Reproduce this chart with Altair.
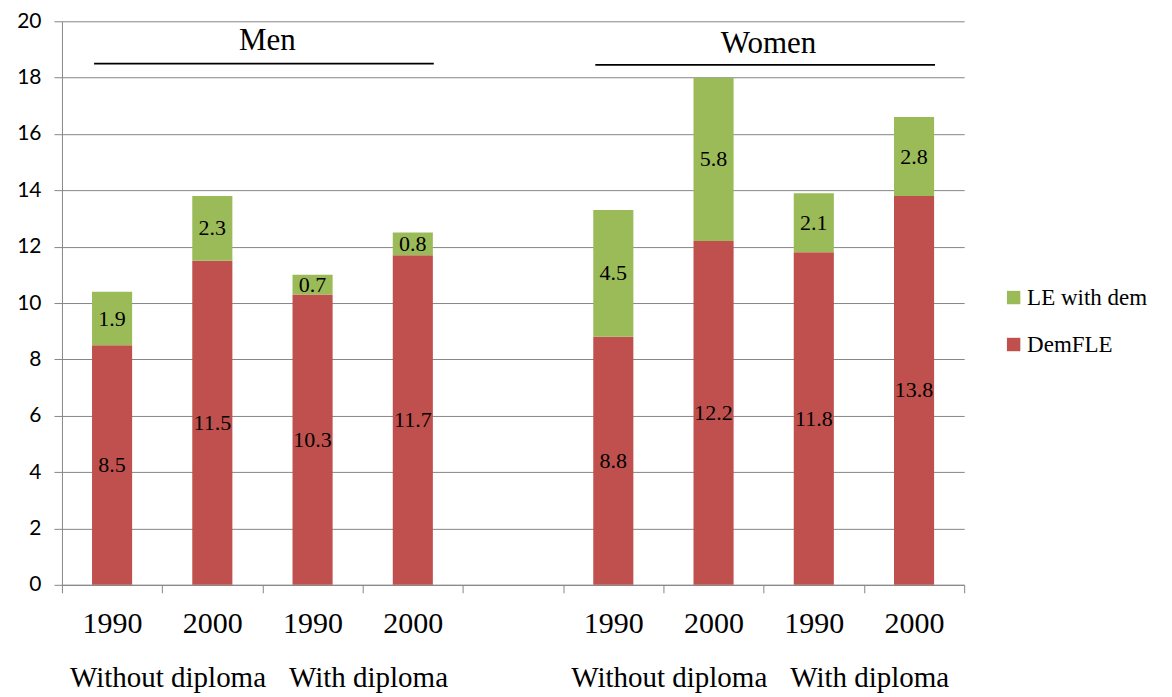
import altair as alt
import pandas as pd

# ---- data -------------------------------------------------------------
slots = ["M_wo_1990", "M_wo_2000", "M_w_1990", "M_w_2000", "gap",
         "F_wo_1990", "F_wo_2000", "F_w_1990", "F_w_2000"]
bar_keys = ["M_wo_1990", "M_wo_2000", "M_w_1990", "M_w_2000",
            "F_wo_1990", "F_wo_2000", "F_w_1990", "F_w_2000"]
demfle = [8.5, 11.5, 10.3, 11.7, 8.8, 12.2, 11.8, 13.8]
le_dem = [1.9, 2.3, 0.7, 0.8, 4.5, 5.8, 2.1, 2.8]
series = ["LE with dem", "DemFLE"]
colors = ["#9BBB59", "#C0504D"]

group_anchor = ["M_wo_1990", "M_w_1990", "F_wo_1990", "F_w_1990"]
group_labels = ["Without diploma", "With diploma", "Without diploma", "With diploma"]

sex_labels = ["Men", "Women"]
sex_anchor = ["M_wo_2000", "F_wo_2000"]
sex_start = ["M_wo_1990", "F_wo_1990"]
sex_end = ["M_w_2000", "F_w_2000"]
sex_label_y = [19.3, 19.2]
sex_rule_y = [18.5, 18.45]

y_ticks = list(range(0, 21, 2))

# ---- tables -----------------------------------------------------------
rows = []
for k, d, l in zip(bar_keys, demfle, le_dem):
    rows.append({"slot": k, "series": "DemFLE", "value": d, "ord": 0})
    rows.append({"slot": k, "series": "LE with dem", "value": l, "ord": 1})
df = pd.DataFrame(rows)
groups = pd.DataFrame({"slot": group_anchor, "label": group_labels})
sexes = pd.DataFrame({"label": sex_labels, "slot": sex_anchor, "s0": sex_start,
                      "s1": sex_end, "ly": sex_label_y, "ry": sex_rule_y})

W, H = 903, 564
serif = "Liberation Serif"

xscale = alt.Scale(domain=slots, paddingInner=0, paddingOuter=0)
yscale = alt.Scale(domain=[0, 20], nice=False)

label_expr = ("!isString(datum.value) ? '' : "
              "(indexof(datum.value,'1990')>=0 ? '1990' : "
              "(indexof(datum.value,'2000')>=0 ? '2000' : ''))")

x_enc = alt.X("slot:N", scale=xscale, sort=slots,
              axis=alt.Axis(title=None, labelExpr=label_expr, tickBand="extent",
                            labelAngle=0, labelFont=serif, labelFontSize=30,
                            labelColor="black", labelPadding=16, tickSize=8,
                            tickColor="#868686", domainColor="#868686",
                            grid=False))

bars = alt.Chart(df).mark_bar(width=alt.RelativeBandSize(0.4)).encode(
    x=x_enc,
    y=alt.Y("value:Q", stack="zero", scale=yscale,
            axis=alt.Axis(title=None, values=y_ticks, labelFont="Lato",
                          labelFontSize=21, labelColor="black", labelPadding=13,
                          tickSize=8, tickColor="#868686", domainColor="#868686",
                          gridColor="#868686", gridWidth=1)),
    color=alt.Color("series:N", scale=alt.Scale(domain=series, range=colors),
                    legend=alt.Legend(title=None, orient="none", legendX=941,
                                      legendY=265, symbolType="square",
                                      symbolSize=180, symbolStrokeWidth=0,
                                      labelFont=serif, labelFontSize=23,
                                      labelColor="black", rowPadding=23,
                                      labelOffset=2)),
    order=alt.Order("ord:Q"),
)

labels = alt.Chart(df).transform_stack(
    stack="value", groupby=["slot"], as_=["v0", "v1"],
    sort=[alt.SortField("ord")]
).transform_calculate(
    mid="(datum.v0 + datum.v1) / 2",
    txt="format(datum.value, '.1f')"
).mark_text(font=serif, fontSize=22, color="black", baseline="middle").encode(
    x=alt.X("slot:N", scale=xscale, sort=slots),
    y=alt.Y("mid:Q", scale=yscale),
    text="txt:N",
)

group_text = alt.Chart(groups).mark_text(
    font=serif, fontSize=29, color="black", dx=56, baseline="middle"
).encode(
    x=alt.X("slot:N", scale=xscale, sort=slots),
    y=alt.value(H + 93),
    text="label:N",
)

sex_text = alt.Chart(sexes).mark_text(
    font=serif, fontSize=31, color="black", dx=55, baseline="middle"
).encode(
    x=alt.X("slot:N", scale=xscale, sort=slots),
    y=alt.Y("ly:Q", scale=yscale),
    text="label:N",
)

sex_rule = alt.Chart(sexes).mark_rule(
    color="black", strokeWidth=1.8, xOffset=-18, x2Offset=21
).encode(
    x=alt.X("s0:N", scale=xscale, sort=slots),
    x2="s1:N",
    y=alt.Y("ry:Q", scale=yscale),
)

chart = alt.layer(bars, labels, group_text, sex_text, sex_rule).properties(
    width=W, height=H,
    autosize=alt.AutoSizeParams(type="none"),
    padding={"left": 54, "top": 13, "right": 200, "bottom": 110},
).configure(background="white").configure_view(stroke=None)

chart.save("out.html", embed_options={"renderer": "svg", "actions": False})
